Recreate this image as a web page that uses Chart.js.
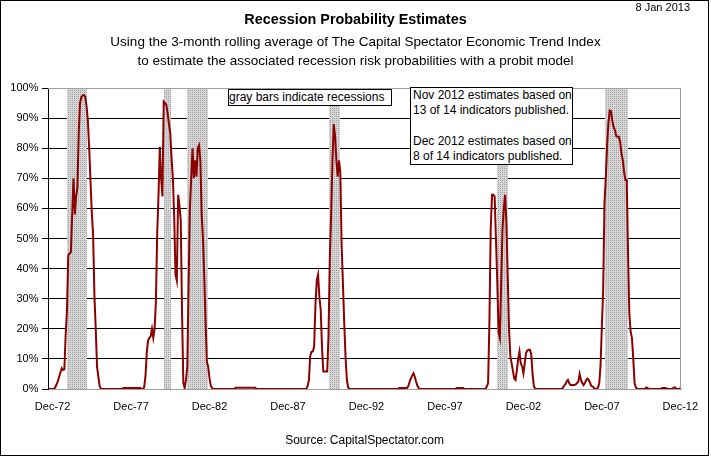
<!DOCTYPE html>
<html>
<head>
<meta charset="utf-8">
<title>Recession Probability Estimates</title>
<script src="https://cdn.jsdelivr.net/npm/chart.js@4.4.0/dist/chart.umd.min.js"></script>
<style>
  body { margin: 0; background: #fff; font-family: "Liberation Sans", Arial, sans-serif; }
  #wrap { position: relative; width: 711px; height: 456px; }
  #frame { position: absolute; left: 0; top: 0; width: 707px; height: 454px; border: 1px solid #000; pointer-events: none; }
  #date { position: absolute; right: 21px; top: 1px; font-size: 11px; color: #000; }
  .note { position: absolute; background: #fff; border: 1px solid #000; box-sizing: border-box;
          font-size: 12px; color: #000; white-space: nowrap; }
  #note1 { left: 228px; top: 89px; width: 164px; height: 17px; line-height: 15px; padding-left: 0; }
  #note2 { left: 410px; top: 87px; width: 163px; height: 78px; line-height: 15.2px; padding: 0 0 0 2px; }
</style>
</head>
<body>
<div id="wrap">
  <canvas id="chart" width="711" height="456"></canvas>
  <div id="frame"></div>
  <div id="date">8 Jan 2013</div>
  <div class="note" id="note1">gray bars indicate recessions</div>
  <div class="note" id="note2">Nov 2012 estimates based on<br>13 of 14 indicators published.<br><br>Dec 2012 estimates based on<br>8 of 14 indicators published.</div>
</div>
<script>
// months are counted from Dec-72 (= 0); the series starts Sep-72
const firstMonth = -3;

// monthly recession probability (%), one row per year
const probability = [
  0, 0, 0, 0,                                                   // 1972 Sep-Dec
  0, 0.5, 1.5, 2.5, 4, 5.5, 6.9, 6.3, 6.5, 18, 26, 44.5,        // 1973
  45, 45.5, 58, 70, 58, 64, 67, 85, 95, 97, 97.5, 97.7,         // 1974
  97, 94, 89, 80, 69, 58.5, 51, 31, 20, 7.4, 4, 1,              // 1975
  0, 0, 0, 0, 0, 0, 0, 0, 0, 0, 0, 0,                           // 1976
  0, 0, 0, 0, 0, 0.3, 0.3, 0.3, 0.3, 0.3, 0.3, 0.3,             // 1977
  0.3, 0.3, 0.3, 0.3, 0.3, 0.3, 0.3, 0, 0, 0.5, 4, 12,          // 1978
  16, 17, 17.5, 20, 17, 20, 29, 51.7, 64.5, 80.5, 70, 64,       // 1979
  95.5, 95, 94.4, 91.5, 88, 85, 76.5, 70, 57, 38, 36, 64.5,     // 1980
  61, 56, 25, 2, 0.3, 3, 7.4, 35, 60, 70, 80, 70,               // 1981
  76, 70.5, 80, 81, 76, 58, 50, 37, 22, 9, 7.4, 3.5,            // 1982
  1, 0.3, 0, 0, 0, 0, 0, 0, 0, 0, 0, 0,                         // 1983
  0, 0, 0, 0, 0, 0, 0, 0.4, 0.4, 0.4, 0.4, 0.4,                 // 1984
  0.4, 0.4, 0.4, 0.4, 0.4, 0.4, 0.4, 0.4, 0.4, 0.4, 0.4, 0,     // 1985
  0, 0, 0, 0, 0, 0, 0, 0, 0, 0, 0, 0,                           // 1986
  0, 0, 0, 0, 0, 0, 0, 0, 0, 0, 0, 0,                           // 1987
  0, 0, 0, 0, 0, 0, 0, 0, 0, 0, 0, 0,                           // 1988
  0, 0, 1, 3, 11, 12.4, 12.5, 14, 28, 36, 38, 30.5,             // 1989
  26.5, 14, 5.8, 5.8, 5.8, 5.8, 18, 44, 58, 76, 88, 84,         // 1990
  76, 70.5, 76, 72, 48, 35, 22, 10.7, 3, 0.5, 0, 0,             // 1991
  0, 0, 0, 0, 0, 0, 0, 0, 0, 0, 0, 0,                           // 1992
  0, 0, 0, 0, 0, 0, 0, 0, 0, 0, 0, 0,                           // 1993
  0, 0, 0, 0, 0, 0, 0, 0, 0, 0, 0, 0,                           // 1994
  0.3, 0.3, 0.3, 0.3, 0.3, 0.3, 0.3, 1, 2.4, 3.5, 4.5, 5.2,     // 1995
  4, 2.4, 1, 0.3, 0, 0, 0, 0, 0, 0, 0, 0,                       // 1996
  0, 0, 0, 0, 0, 0, 0, 0, 0, 0, 0, 0,                           // 1997
  0, 0, 0, 0, 0, 0, 0, 0, 0.3, 0.3, 0.3, 0.3,                   // 1998
  0.3, 0.3, 0, 0, 0, 0, 0, 0, 0, 0, 0, 0,                       // 1999
  0, 0, 0, 0, 0, 0, 0, 0.8, 2, 22, 53, 64.5,                    // 2000
  64.5, 64, 50, 36, 19, 17, 35, 53, 60, 64.5, 55, 38,           // 2001
  20, 11, 8.5, 6, 3.5, 3, 6.3, 10, 12.4, 8.5, 7.5, 5.2,         // 2002
  8.5, 11.9, 12.8, 13, 13, 11.5, 5, 1, 0, 0, 0, 0,              // 2003
  0, 0, 0, 0, 0, 0, 0, 0, 0, 0, 0, 0,                           // 2004
  0, 0, 0, 0, 0, 0.3, 1, 1.5, 2.5, 3, 2, 1.3,                   // 2005
  1.3, 1.3, 1.3, 1.5, 2, 2.4, 5, 3, 2, 1.3, 2, 3,               // 2006
  3.5, 3, 2, 1, 0.8, 0.3, 0, 0, 0.5, 1.9, 8, 21,                // 2007
  33, 62, 70, 81, 88.3, 92.5, 92.3, 89, 87, 86, 84, 83.8,       // 2008
  83.8, 82, 78.3, 76, 72, 69.4, 69.4, 45, 25, 19, 17, 10,       // 2009
  2, 0.5, 0, 0, 0, 0, 0, 0, 0, 0.5, 0.3, 0,                     // 2010
  0, 0, 0, 0, 0, 0, 0, 0, 0, 0.3, 0.3, 0.3,                     // 2011
  0.3, 0, 0, 0, 0, 0, 0.5, 0.5, 0, 0, 0, 0.3                    // 2012
];

// recession shading, start / end in months from Dec-72 (as drawn)
const recStart = [10.8, 85.4, 102.8, 211.3, 339.6, 422.4];
const recEnd   = [26.1, 90.3, 118.6, 219.8, 348, 439.7];

const tickMonths = [0, 60, 120, 180, 240, 300, 360, 420, 480];
const tickLabels = ['Dec-72', 'Dec-77', 'Dec-82', 'Dec-87', 'Dec-92', 'Dec-97', 'Dec-02', 'Dec-07', 'Dec-12'];
const yTicks = [0, 10, 20, 30, 40, 50, 60, 70, 80, 90, 100];

const points = probability.map((v, i) => ({ x: firstMonth + i, y: v }));

// dotted gray fill like the old Excel pattern
const pat = document.createElement('canvas');
pat.width = 2; pat.height = 2;
const pc = pat.getContext('2d');
pc.fillStyle = '#d6d6d6'; pc.fillRect(0, 0, 2, 2);
pc.fillStyle = '#a2a2a2'; pc.fillRect(0, 0, 1, 1);

const recessionBars = {
  id: 'recessionBars',
  beforeDatasetsDraw(chart) {
    const { ctx, chartArea: a, scales: { x } } = chart;
    ctx.save();
    ctx.fillStyle = ctx.createPattern(pat, 'repeat');
    recStart.forEach((s, i) => {
      const x0 = Math.round(x.getPixelForValue(s));
      const x1 = Math.round(x.getPixelForValue(recEnd[i]));
      ctx.fillRect(x0, a.top, x1 - x0, a.bottom - a.top);
    });
    // plot area border (top and right)
    ctx.strokeStyle = '#a0a0a0';
    ctx.lineWidth = 1;
    ctx.beginPath();
    ctx.moveTo(a.left, Math.round(a.top) + 0.5);
    ctx.lineTo(Math.round(a.right) - 0.5, Math.round(a.top) + 0.5);
    ctx.lineTo(Math.round(a.right) - 0.5, a.bottom);
    ctx.stroke();
    ctx.restore();
  }
};

Chart.defaults.font.family = '"Liberation Sans", Arial, sans-serif';
Chart.defaults.color = '#000';

new Chart(document.getElementById('chart'), {
  type: 'line',
  data: {
    datasets: [{
      label: 'Recession probability',
      data: points,
      borderColor: '#8b0000',
      borderWidth: 2,
      pointRadius: 0,
      tension: 0,
      fill: false
    }]
  },
  options: {
    responsive: false,
    animation: false,
    layout: { padding: 0 },
    plugins: {
      legend: { display: false },
      tooltip: { enabled: false },
      title: {
        display: true,
        text: 'Recession Probability Estimates',
        font: { size: 14.4, weight: 'bold', lineHeight: 1.25 },
        padding: { top: 11, bottom: 0 }
      },
      subtitle: {
        display: true,
        text: ['Using the 3-month rolling average of The Capital Spectator Economic Trend Index',
               'to estimate the associated recession risk probabilities with a probit model'],
        font: { size: 13.5, lineHeight: '19px' },
        color: '#000',
        padding: { top: 4, bottom: 17 }
      }
    },
    scales: {
      x: {
        type: 'linear',
        min: firstMonth - 0.5,
        max: 480.5,
        afterFit: (s) => { s.height = 67; },
        afterBuildTicks: (s) => { s.ticks = tickMonths.map(v => ({ value: v })); },
        grid: { display: false, drawTicks: false },
        border: { color: '#a0a0a0', width: 1 },
        ticks: {
          autoSkip: false,
          maxRotation: 0,
          padding: 11.4,
          font: { size: 11 },
          callback: (v) => tickLabels[tickMonths.indexOf(v)]
        },
        title: {
          display: true,
          text: 'Source: CapitalSpectator.com',
          font: { size: 12 },
          padding: { top: 0, bottom: 8 }
        }
      },
      y: {
        min: 0,
        max: 100,
        afterFit: (s) => { s.width = 48; },
        afterBuildTicks: (s) => { s.ticks = yTicks.map(v => ({ value: v })); },
        grid: {
          color: (c) => c.tick.value === 0 ? 'rgba(0,0,0,0)' : (c.tick.value === 100 ? '#a0a0a0' : '#000'),
          tickColor: '#000',
          tickLength: 6
        },
        border: { color: '#000', width: 1 },
        ticks: {
          padding: 3.5,
          font: { size: 11 },
          callback: (v) => v + '%'
        }
      },
      // empty right-hand margin so the plot ends where the original does
      yRight: {
        position: 'right',
        min: 0,
        max: 100,
        afterFit: (s) => { s.width = 30; },
        grid: { display: false },
        border: { display: false },
        ticks: { display: false }
      }
    }
  },
  plugins: [recessionBars]
});
</script>
</body>
</html>
